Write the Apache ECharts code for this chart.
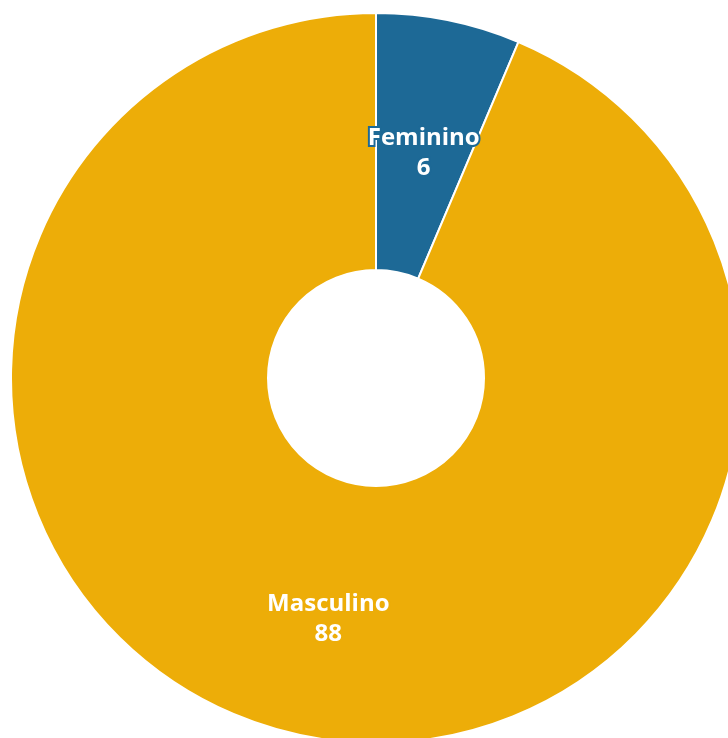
<!DOCTYPE html>
<html><head><meta charset="utf-8">
<script src="https://cdn.jsdelivr.net/npm/echarts@6/dist/echarts.min.js"></script>
<style>html,body{margin:0;padding:0;background:#fff}#c{width:728px;height:738px}</style>
</head><body><div id="c"></div>
<script>
const categories = ['Feminino', 'Masculino'];
const values = [6, 88];
const colors = ['#1D6996', '#EDAD08'];
const labelShift = [10, 6];
const chart = echarts.init(document.getElementById('c'));
chart.setOption({
  animation: false,
  series: [{
    type: 'pie',
    center: [376, 378],
    radius: [108, 365],
    startAngle: 90,
    clockwise: true,
    itemStyle: { borderColor: '#fff', borderWidth: 2 },
    label: {
      show: true,
      position: 'inside',
      formatter: '{b}\n{c}',
      color: '#fff',
      fontFamily: 'Open Sans',
      fontWeight: 'bold',
      fontSize: 24,
      lineHeight: 30,
      textBorderWidth: 4
    },
    labelLine: { show: false },
    data: categories.map((c, i) => ({
      name: c, value: values[i],
      itemStyle: { color: colors[i] },
      label: { textBorderColor: colors[i], offset: [0, labelShift[i]] }
    }))
  }]
});
</script></body></html>
